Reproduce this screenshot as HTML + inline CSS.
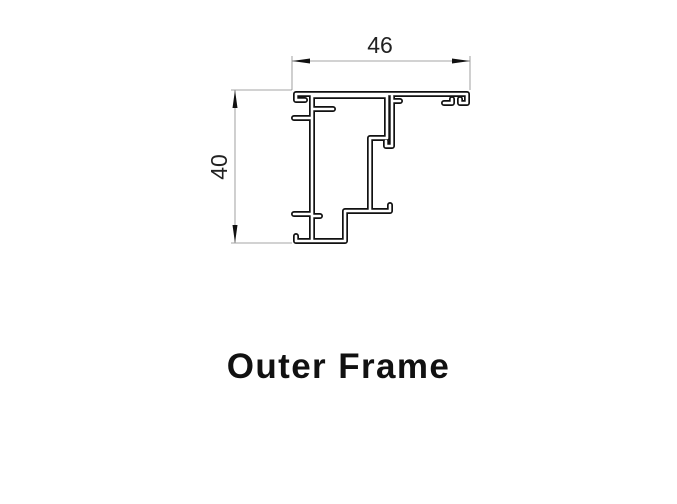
<!DOCTYPE html>
<html><head><style>
html,body{margin:0;padding:0;background:#fff;}
body{width:677px;height:504px;position:relative;overflow:hidden;}
.t{position:absolute;left:0;width:677px;top:347px;text-align:center;font:bold 35px "Liberation Sans",sans-serif;color:#111;letter-spacing:1.4px;}
</style></head><body>
<svg width="677" height="504" style="position:absolute;left:0;top:0">
<g stroke="#888" stroke-width="0.8" fill="none">
<line x1="292" y1="56" x2="292" y2="90"/>
<line x1="470" y1="56" x2="470" y2="90"/>
<line x1="292" y1="61" x2="470" y2="61"/>
<line x1="231" y1="90" x2="292" y2="90"/>
<line x1="231" y1="243" x2="292" y2="243"/>
<line x1="235" y1="90" x2="235" y2="243"/>
</g>
<g fill="#111">
<polygon points="292,61 310,58.5 310,63.5"/>
<polygon points="470,61 452,58.5 452,63.5"/>
<polygon points="235,90 232.5,108 237.5,108"/>
<polygon points="235,243 232.5,225 237.5,225"/>
</g>
<text x="380" y="53" font-family="Liberation Sans,sans-serif" font-size="23" text-anchor="middle" fill="#222">46</text>
<text transform="translate(227,167) rotate(-90)" font-family="Liberation Sans,sans-serif" font-size="23" text-anchor="middle" fill="#222">40</text>
<g id="p" fill="none" stroke-linejoin="round" stroke-linecap="round">
<path d="M296,100 V94 H467 V103 H460 V99 M452,99 V103 H444
M312,94 V241 H296 V236
M296,100 H305 M294,118 H312 M312,109 H333
M294,214 H312 M312,216 H320
M312,96 H387 V138 H370 V211 H390 V205 M370,211 H345 V241 H312
M392,96 V146 H386 V141 M392,101 H400"/>
</g>
<use href="#p" stroke="#111" stroke-width="6"/>
<use href="#p" stroke="#fff" stroke-width="2.6"/>
</svg>
<div class="t">Outer Frame</div>
</body></html>
